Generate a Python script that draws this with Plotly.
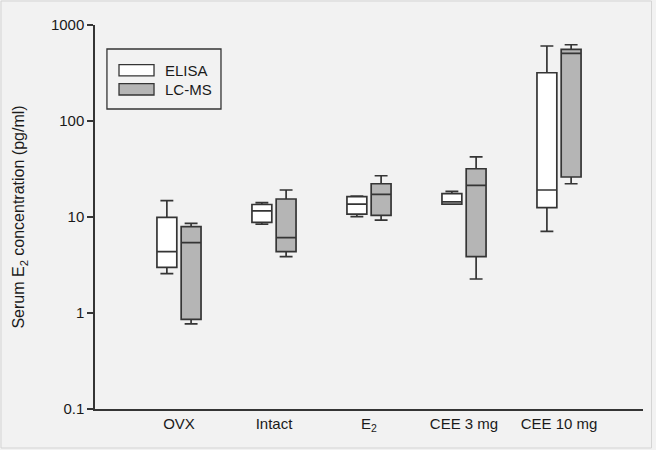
import plotly.graph_objects as go

categories = ["OVX", "Intact", "E<sub>2</sub>", "CEE 3 mg", "CEE 10 mg"]

elisa_lower = [2.57, 8.4, 10.07, 13.6, 7.1]
elisa_q1 = [2.99, 8.8, 10.7, 13.6, 12.5]
elisa_median = [4.35, 11.6, 13.6, 14.4, 19.1]
elisa_q3 = [9.93, 13.5, 16.3, 17.5, 318]
elisa_upper = [14.8, 14.1, 16.5, 18.5, 604]

lcms_lower = [0.77, 3.86, 9.3, 2.26, 22.2]
lcms_q1 = [0.86, 4.35, 10.4, 3.86, 26.1]
lcms_median = [5.4, 6.1, 17.2, 21.4, 507]
lcms_q3 = [7.93, 15.4, 22.2, 31.8, 558]
lcms_upper = [8.6, 19.1, 26.9, 42.2, 623]

y_ticks = [0.1, 1, 10, 100, 1000]
y_ticktext = ["0.1", "1", "10", "100", "1000"]

LINE = "#353535"
BG = "#f2f2f2"
FONT = "Arial, Liberation Sans, sans-serif"

fig = go.Figure()
fig.add_trace(go.Box(
    name="ELISA", x=categories, q1=elisa_q1, median=elisa_median, q3=elisa_q3,
    lowerfence=elisa_lower, upperfence=elisa_upper,
    fillcolor="#ffffff", line=dict(color=LINE, width=1.7), whiskerwidth=0.65,
    boxpoints=False, showlegend=False, hoverinfo="skip"))
fig.add_trace(go.Box(
    name="LC-MS", x=categories, q1=lcms_q1, median=lcms_median, q3=lcms_q3,
    lowerfence=lcms_lower, upperfence=lcms_upper,
    fillcolor="#b5b5b5", line=dict(color=LINE, width=1.7), whiskerwidth=0.65,
    boxpoints=False, showlegend=False, hoverinfo="skip"))

# custom legend
shapes = [
    dict(type="rect", xref="paper", yref="paper", x0=0.0218, x1=0.2299, y0=0.9375, y1=0.7813,
         line=dict(color=LINE, width=1.3), fillcolor="rgba(0,0,0,0)"),
    dict(type="rect", xref="paper", yref="paper", x0=0.0438, x1=0.1077, y0=0.8967, y1=0.8677,
         line=dict(color=LINE, width=1.3), fillcolor="#ffffff"),
    dict(type="rect", xref="paper", yref="paper", x0=0.0438, x1=0.1077, y0=0.8474, y1=0.8177,
         line=dict(color=LINE, width=1.3), fillcolor="#b5b5b5"),
    dict(type="rect", xref="paper", yref="paper", x0=-0.1715, x1=1.0155, y0=1.0625, y1=-0.1016,
         line=dict(color="#d4d4d4", width=1), fillcolor="rgba(0,0,0,0)", layer="below"),
]
annotations = [
    dict(text="ELISA", xref="paper", yref="paper", x=0.124, y=0.882, xanchor="left", yanchor="middle",
         showarrow=False, font=dict(size=15, color="#1a1a1a", family=FONT)),
    dict(text="LC-MS", xref="paper", yref="paper", x=0.124, y=0.8325, xanchor="left", yanchor="middle",
         showarrow=False, font=dict(size=15, color="#1a1a1a", family=FONT)),
]

fig.update_layout(
    width=656, height=450,
    margin=dict(l=95, r=13, t=25, b=41),
    paper_bgcolor=BG, plot_bgcolor=BG,
    boxmode="group", boxgap=0.49, boxgroupgap=0.18,
    font=dict(family=FONT, size=15, color="#1a1a1a"),
    shapes=shapes, annotations=annotations,
    xaxis=dict(type="category", range=[-0.884, 4.884], showline=True, linecolor=LINE, linewidth=1.5,
               ticks="", showgrid=False, zeroline=False,
               tickfont=dict(size=15, color="#1a1a1a")),
    yaxis=dict(type="log", range=[-1, 3], showline=True, linecolor=LINE, linewidth=1.5,
               ticks="outside", ticklen=6, tickwidth=1.5, tickcolor=LINE,
               tickvals=y_ticks, ticktext=y_ticktext, showgrid=False, zeroline=False,
               tickfont=dict(size=15, color="#1a1a1a"),
               title=dict(text="Serum E<sub>2</sub> concentration (pg/ml)", standoff=22,
                          font=dict(size=16, color="#1a1a1a"))),
)

fig.write_html("out.html", config={"displayModeBar": False},
               post_script="document.body.style.margin='0';document.body.style.background='#f2f2f2';")
